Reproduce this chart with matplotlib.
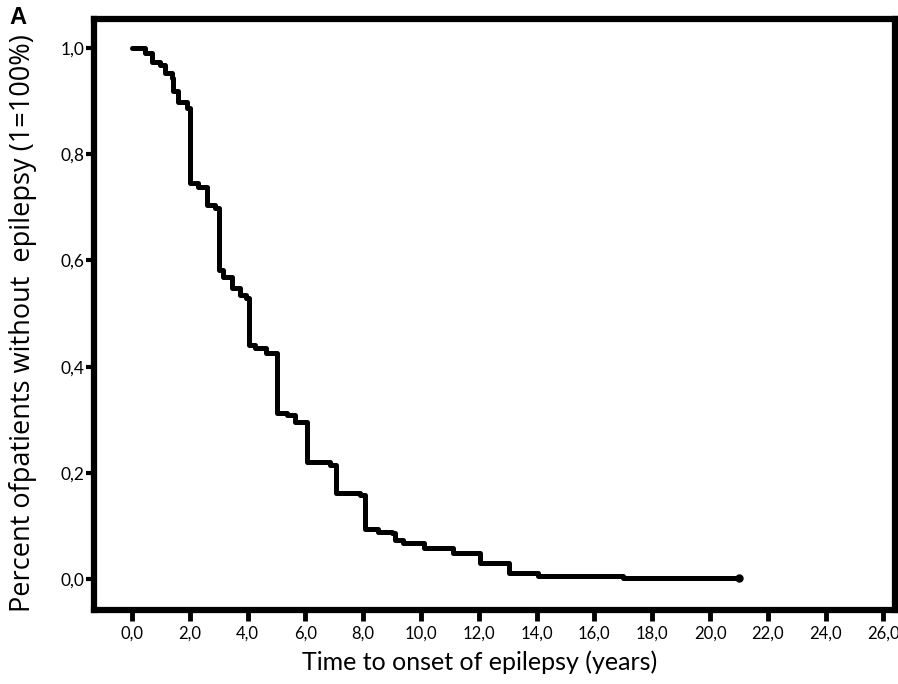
import matplotlib
matplotlib.use("Agg")
import matplotlib.pyplot as plt
import numpy as np

# Kaplan-Meier steps (time in years, survival after the step)
times = [0.0, 0.45, 0.69, 0.97, 1.14, 1.38, 1.42, 1.59, 1.9, 2.0, 2.3, 2.6, 2.87,
         3.0, 3.15, 3.45, 3.75, 3.95, 4.05, 4.25, 4.65, 5.02, 5.35, 5.65, 6.05,
         6.85, 7.05, 7.9, 8.06, 8.5, 9.0, 9.1, 9.38, 10.1, 11.1, 12.05, 13.05,
         14.05, 17.0, 21.0]
surv = [1.0, 0.99, 0.973, 0.968, 0.953, 0.944, 0.92, 0.898, 0.888, 0.746, 0.738,
        0.704, 0.699, 0.582, 0.569, 0.548, 0.535, 0.529, 0.44, 0.435, 0.426,
        0.313, 0.309, 0.296, 0.22, 0.215, 0.162, 0.158, 0.094, 0.089, 0.087,
        0.073, 0.068, 0.058, 0.049, 0.030, 0.011, 0.0057, 0.002, 0.002]

xticks = np.arange(0, 27, 2)
yticks = [0.0, 0.2, 0.4, 0.6, 0.8, 1.0]

fig = plt.figure(figsize=(8.98, 6.84), dpi=100)
ax = fig.add_axes([0.1047, 0.1082, 0.8920, 0.8640])

ax.step(times, surv, where='post', color='black', linewidth=3.6,
        solid_capstyle='round', solid_joinstyle='round')
ax.plot(times[-1], surv[-1], 'o', color='black', markersize=5)

ax.set_xlim(-1.31, 26.4)
ax.set_ylim(-0.058, 1.0546)

for s in ax.spines.values():
    s.set_linewidth(4.5)

ax.set_xticks(xticks)
ax.set_xticklabels(['%d,0' % t for t in xticks], fontfamily='Lato', fontsize=12)
ax.set_yticks(yticks)
ax.set_yticklabels([('%.1f' % v).replace('.', ',') for v in yticks],
                   fontfamily='Lato', fontsize=12.5)
ax.tick_params(axis='x', length=8, width=3.5, pad=3)
ax.tick_params(axis='y', length=6, width=3, pad=1)

ax.set_xlabel('Time to onset of epilepsy (years)', fontfamily='Lato', fontsize=18)
ax.xaxis.set_label_coords(0.482, -0.068)
ax.set_ylabel('Percent ofpatients without  epilepsy (1=100%)', fontfamily='Open Sans',
              fontsize=19.5)
ax.yaxis.set_label_coords(-0.071, 0.485)

fig.text(0.011, 0.975, 'A', fontsize=17, fontweight='bold', fontfamily='Liberation Sans',
         va='center')

fig.savefig('out.png', dpi=100)
